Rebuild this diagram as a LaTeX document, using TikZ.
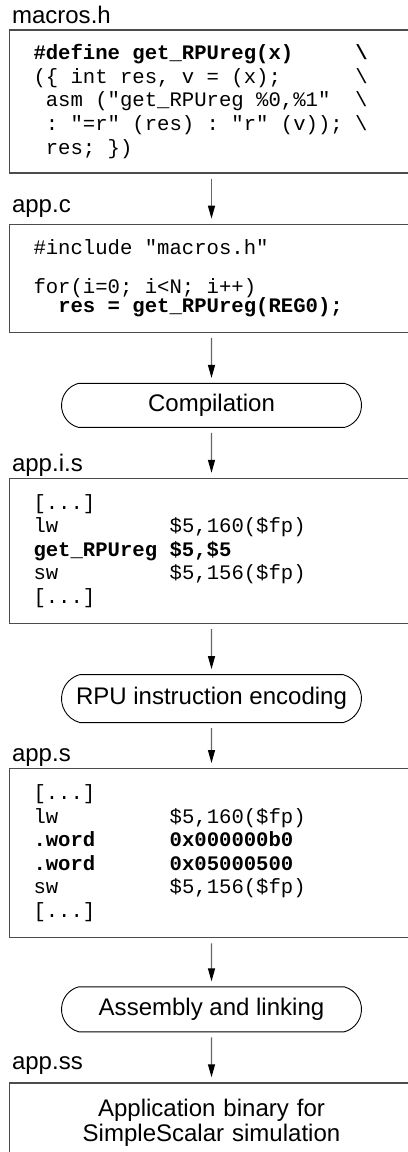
\documentclass[tikz,border=0pt]{standalone}
\usepackage{fontspec}
\setmainfont{Liberation Sans}
\setmonofont{Liberation Mono}
\usepackage{tikz}
\usetikzlibrary{positioning,shapes.misc,arrows.meta}

\newcommand\codefont{\fontsize{20.7}{23.6}\selectfont\ttfamily}
% one blank = one character cell in the listings
\newcommand\fixblanks{\spaceskip=\fontcharwd\font`\0\relax\xspaceskip=\spaceskip}
\newcommand\stepfont{\fontsize{24.1}{25.6}\selectfont}
% leading blanks in the listings (plain spaces vanish after \\)
\newcommand\cols[1]{\hspace*{#1\fontcharwd\font`\0}}

\begin{document}
\begin{tikzpicture}[
        filebox/.style={
            draw=black!70,
            line width=1.3bp,
            minimum width=404bp,
            text width=356bp,
            inner xsep=24bp,
            inner ysep=0pt
        },
        codebox/.style={
            filebox,
            align=left,
            font=\codefont,
            execute at begin node=\fixblanks
        },
        binbox/.style={
            filebox,
            align=center,
            font=\stepfont
        },
        stage/.style={
            draw,
            line width=0.9bp,
            rounded rectangle,
            rounded rectangle arc length=150,
            minimum width=300bp,
            inner sep=0pt,
            font=\stepfont
        },
        filename/.style={
            inner sep=0pt,
            font=\stepfont
        },
        flow/.style={
            -{Triangle[length=13bp,width=7bp,color=black,fill=black]},
            draw=black!60,
            line width=1.2bp,
            shorten <=5bp,
            shorten >=5bp
        },
        node distance=50bp
    ]

    \useasboundingbox (0,0) rectangle (408bp,-1152bp);
    \clip (0,0) rectangle (408bp,-1152bp);

    \node[codebox, minimum height=143bp] (macros) at (211.5bp,-101.5bp) {%
        \textbf{\#define get\_RPUreg(x)~~~~~\textbackslash}\\
        (\{ int res, v = (x);~~~~~~\textbackslash\\
        \cols{1}asm ("get\_RPUreg \%0,\%1"~~\textbackslash\\
        \cols{1}: "=r" (res) : "r" (v));~\textbackslash\\
        \cols{1}res; \})};
    \node[codebox, minimum height=108bp, below=of macros] (appc) {%
        \#include "macros.h"\\[15.5bp]
        for(i=0; i<N; i++)\\[-4bp]
        \cols{2}\textbf{res = get\_RPUreg(REG0);}};
    \node[stage, minimum height=44bp, below=of appc] (compile) {Compilation};
    \node[codebox, minimum height=145bp, below=of compile] (appis) {%
        [...]\\
        lw~~~~~~~~~\$5,160(\$fp)\\
        \textbf{get\_RPUreg \$5,\$5}\\
        sw~~~~~~~~~\$5,156(\$fp)\\{}
        [...]};
    \node[stage, minimum height=48bp, below=of appis] (encode) {RPU instruction encoding};
    \node[codebox, minimum height=169bp, below=45bp of encode] (apps) {%
        [...]\\
        lw~~~~~~~~~\$5,160(\$fp)\\
        \textbf{.word~~~~~~0x000000b0}\\
        \textbf{.word~~~~~~0x05000500}\\
        sw~~~~~~~~~\$5,156(\$fp)\\{}
        [...]};
    \node[stage, minimum height=45bp, below=48bp of apps] (assemble) {Assembly and linking};
    \node[binbox, minimum height=80bp, below=of assemble] (appss) {%
        Application binary for\\
        SimpleScalar simulation};

    % file names sit on the top left corner of each box
    \node[filename, above right=5bp and 3bp of macros.north west] (macrosname) {macros.h};
    \node[filename, above right=6bp and 3bp of appc.north west] (appcname) {app.c};
    \node[filename, above right=1.5bp and 3bp of appis.north west] (appisname) {app.i.s};
    \node[filename, above right=1.5bp and 3bp of apps.north west] (appsname) {app.s};
    \node[filename, above right=8bp and 3bp of appss.north west] (appssname) {app.ss};

    \draw[flow] (macros) -- (appc);
    \draw[flow] (appc) -- (compile);
    \draw[flow] (compile) -- (appis);
    \draw[flow] (appis) -- (encode);
    \draw[flow] (encode) -- (apps);
    \draw[flow] (apps) -- (assemble);
    \draw[flow] (assemble) -- (appss);

    \end{tikzpicture}
\end{document}
